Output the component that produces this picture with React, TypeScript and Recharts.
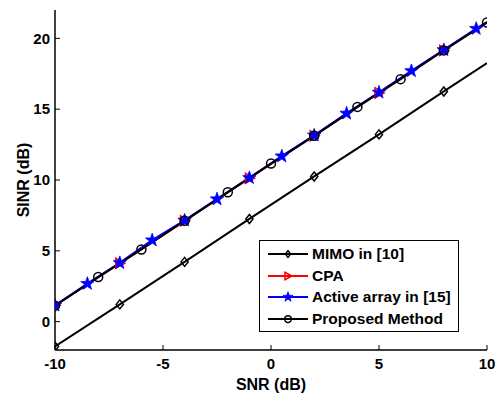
import React from 'react';
import { LineChart, Line, XAxis, YAxis, Legend, Label } from 'recharts';

const FONT = '"Liberation Sans", Arial, Helvetica, sans-serif';

const xTicks = [-10, -5, 0, 5, 10];
const yTicks = [0, 5, 10, 15, 20];

const seriesNames = ['MIMO in [10]', 'CPA', 'Active array in [15]', 'Proposed Method'];
const seriesColors = ['#000000', '#ff0000', '#0000ff', '#000000'];
const seriesMarkers = ['diamond', 'triangle', 'star', 'circle'];

const mimoSnr = [-10, -7, -4, -1, 2, 5, 8, 10];
const mimoSinr = [-1.75, 1.22, 4.22, 7.25, 10.25, 13.22, 16.25, 18.25];
const mimoMarkerSnr = [-10, -7, -4, -1, 2, 5, 8];

const cpaSnr = [-10, -7, -4, -1, 2, 5, 8, 10];
const cpaSinr = [1.15, 4.12, 7.12, 10.13, 13.13, 16.15, 19.15, 21.15];
const cpaMarkerSnr = [-10, -7, -4, -1, 2, 5, 8];

const activeSnr = [-10, -8.5, -7, -5.5, -4, -2.5, -1, 0.5, 2, 3.5, 5, 6.5, 8, 9.5, 10];
const activeSinr = [1.15, 2.68, 4.15, 5.75, 7.15, 8.65, 10.15, 11.68, 13.15, 14.7, 16.18, 17.7, 19.18, 20.68, 21.15];
const activeMarkerSnr = [-10, -8.5, -7, -5.5, -4, -2.5, -1, 0.5, 2, 3.5, 5, 6.5, 8, 9.5];

const propSnr = [-10, -8, -6, -4, -2, 0, 2, 4, 6, 8, 10];
const propSinr = [1.13, 3.15, 5.1, 7.12, 9.14, 11.16, 13.12, 15.16, 17.12, 19.15, 21.12];
const propMarkerSnr = [-10, -8, -6, -4, -2, 0, 2, 4, 6, 8, 10];

const toData = (xs: number[], ys: number[]) => xs.map((x, i) => ({ x, y: ys[i] }));

function MarkerShape({ kind, cx, cy, color, s = 1 }: { kind: string; cx: number; cy: number; color: string; s?: number }) {
  if (kind === 'diamond') {
    return (
      <polygon
        points={`${cx},${cy - 4.5 * s} ${cx + 3.6 * s},${cy} ${cx},${cy + 4.5 * s} ${cx - 3.6 * s},${cy}`}
        fill="none"
        stroke={color}
        strokeWidth={1.5}
      />
    );
  }
  if (kind === 'triangle') {
    return (
      <polygon
        points={`${cx + 5 * s},${cy} ${cx - 4 * s},${cy - 5 * s} ${cx - 4 * s},${cy + 5 * s}`}
        fill="none"
        stroke={color}
        strokeWidth={1.5}
      />
    );
  }
  if (kind === 'star') {
    const pts: string[] = [];
    for (let k = 0; k < 10; k++) {
      const r = (k % 2 === 0 ? 7 : 2.8) * s;
      const a = -Math.PI / 2 + (k * Math.PI) / 5;
      pts.push(`${cx + r * Math.cos(a)},${cy + r * Math.sin(a)}`);
    }
    return <polygon points={pts.join(' ')} fill={color} stroke={color} strokeWidth={0.8} />;
  }
  return <circle cx={cx} cy={cy} r={4.5 * s} fill="none" stroke={color} strokeWidth={1.5} />;
}

const makeDot = (kind: string, color: string, markerXs: number[]) => (props: any) => {
  const { cx, cy, payload, index } = props;
  if (!markerXs.includes(payload.x)) return <g key={`d-${index}`} />;
  return (
    <g key={`d-${index}`}>
      <MarkerShape kind={kind} cx={cx} cy={cy} color={color} />
    </g>
  );
};

const tickStyle = { fontFamily: FONT, fontSize: 15, fontWeight: 'bold', fill: '#000' };
const labelStyle = { fontFamily: FONT, fontSize: 16, fontWeight: 'bold', fill: '#000' };

function LegendBox() {
  return (
    <div
      style={{
        width: 200,
        height: 92,
        boxSizing: 'border-box',
        border: '1px solid #000',
        background: '#fff',
        paddingTop: 2,
        fontFamily: FONT,
        fontSize: 15.5,
        fontWeight: 'bold',
        color: '#000',
      }}
    >
      {seriesNames.map((name, i) => (
        <div key={name} style={{ display: 'flex', alignItems: 'center', height: 21.7 }}>
          <svg width={52} height={22} style={{ display: 'block', flex: 'none' }}>
            <line x1={8} x2={48} y1={11} y2={11} stroke={seriesColors[i]} strokeWidth={1.8} />
            <MarkerShape kind={seriesMarkers[i]} cx={28} cy={11} color={seriesColors[i]} s={0.75} />
          </svg>
          <span style={{ lineHeight: '22px', whiteSpace: 'nowrap' }}>{name}</span>
        </div>
      ))}
    </div>
  );
}

export default function App() {
  const datasets = [
    { data: toData(mimoSnr, mimoSinr), markers: mimoMarkerSnr },
    { data: toData(cpaSnr, cpaSinr), markers: cpaMarkerSnr },
    { data: toData(activeSnr, activeSinr), markers: activeMarkerSnr },
    { data: toData(propSnr, propSinr), markers: propMarkerSnr },
  ];
  return (
    <div style={{ position: 'absolute', left: 0, top: 0, width: 497, height: 394, background: '#fff' }}>
      <LineChart width={497} height={394} margin={{ top: 10, right: 10, bottom: 0, left: 0 }}>
        <XAxis
          xAxisId="b"
          dataKey="x"
          type="number"
          domain={[-10, 10]}
          ticks={xTicks}
          allowDataOverflow
          height={44}
          tickSize={-5}
          tickMargin={13}
          tick={tickStyle}
          axisLine={{ stroke: '#000', strokeWidth: 1.5 }}
          tickLine={{ stroke: '#000', strokeWidth: 1 }}
        >
          <Label value="SNR (dB)" position="insideBottom" offset={4} style={labelStyle} />
        </XAxis>
        <XAxis
          xAxisId="t"
          orientation="top"
          dataKey="x"
          type="number"
          domain={[-10, 10]}
          ticks={xTicks}
          allowDataOverflow
          height={0}
          tickSize={-5}
          tick={false}
          axisLine={{ stroke: '#000', strokeWidth: 1.5 }}
          tickLine={{ stroke: '#000', strokeWidth: 1 }}
        />
        <YAxis
          yAxisId="l"
          type="number"
          domain={[-2, 22]}
          ticks={yTicks}
          allowDataOverflow
          width={55}
          tickSize={-5}
          tickMargin={10}
          tick={tickStyle}
          axisLine={{ stroke: '#000', strokeWidth: 1.5 }}
          tickLine={{ stroke: '#000', strokeWidth: 1 }}
        >
          <Label
            value="SINR (dB)"
            angle={-90}
            position="insideLeft"
            offset={23}
            style={{ ...labelStyle, textAnchor: 'middle' }}
          />
        </YAxis>
        <YAxis
          yAxisId="r"
          orientation="right"
          type="number"
          domain={[-2, 22]}
          ticks={yTicks}
          allowDataOverflow
          width={0}
          tickSize={-5}
          tick={false}
          axisLine={{ stroke: '#000', strokeWidth: 1.5 }}
          tickLine={{ stroke: '#000', strokeWidth: 1 }}
        />
        {datasets.map((ds, i) => (
          <Line
            key={seriesNames[i]}
            xAxisId="b"
            yAxisId="l"
            data={ds.data}
            dataKey="y"
            name={seriesNames[i]}
            type="linear"
            stroke={seriesColors[i]}
            strokeWidth={2}
            dot={makeDot(seriesMarkers[i], seriesColors[i], ds.markers)}
            activeDot={false}
            isAnimationActive={false}
          />
        ))}
        <Legend
          layout="vertical"
          align="center"
          verticalAlign="middle"
          content={() => <LegendBox />}
          wrapperStyle={{ left: 259, top: 240, width: 200, height: 92 }}
        />
      </LineChart>
    </div>
  );
}
